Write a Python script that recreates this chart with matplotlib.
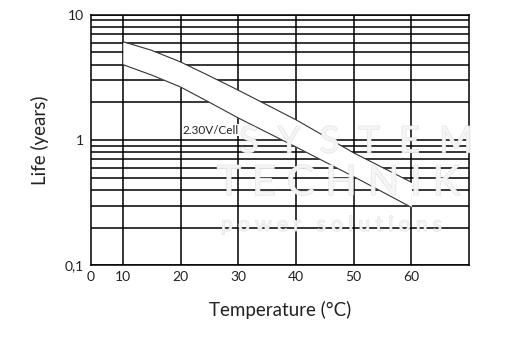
import matplotlib
matplotlib.use("Agg")
from matplotlib import pyplot as plt
from matplotlib import patheffects as pe
from matplotlib.ticker import LogLocator, NullFormatter

# float life vs. temperature band at 2.30 V/cell
temps = [10, 15, 20, 25, 30, 40, 50, 60]
life_upper = [6.1, 5.2, 4.2, 3.25, 2.5, 1.45, 0.79, 0.46]
life_lower = [4.0, 3.3, 2.65, 2.0, 1.5, 0.88, 0.51, 0.29]

x_ticks = [4.45, 10, 20, 30, 40, 50, 60]
x_labels = ['0', '10', '20', '30', '40', '50', '60']
y_ticks = [0.1, 1, 10]
y_labels = ['0,1', '1', '10']

plt.rcParams['font.family'] = ['Lato', 'DejaVu Sans']

fig = plt.figure(figsize=(5.1, 3.43), dpi=100)
ax = fig.add_axes([0.178, 0.2265, 0.742, 0.7305])

ax.set_yscale('log')
ax.set_xlim(4.45, 70)
ax.set_ylim(0.1, 10)

# grid: every minor decade step and every 10 degrees
ax.yaxis.set_minor_locator(LogLocator(base=10, subs=range(2, 10)))
ax.yaxis.set_minor_formatter(NullFormatter())
ax.grid(True, which='both', axis='y', color='black', lw=1.1)
for t in x_ticks[1:]:
    ax.axvline(t, color='black', lw=1.1)

ax.fill_between(temps, life_lower, life_upper, color='white', lw=0, zorder=2)
ax.plot(temps, life_upper, color='#333333', lw=0.8, zorder=3)
ax.plot(temps, life_lower, color='#333333', lw=0.8, zorder=3)

ax.text(20.3, 1.2, '2.30V/Cell', fontsize=8.5, color='#222222', va='center', ha='left', zorder=6,
        bbox=dict(facecolor='white', edgecolor='none', pad=0.5))

ax.set_xticks(x_ticks)
ax.set_xticklabels(x_labels)
ax.set_yticks(y_ticks)
ax.set_yticklabels(y_labels)
ax.tick_params(axis='both', which='both', length=0, labelsize=10, colors='#222222')
ax.tick_params(axis='x', pad=4)
ax.tick_params(axis='y', pad=5)
for s in ax.spines.values():
    s.set_color('black')
    s.set_linewidth(1.1)

ax.set_xlabel('Temperature (°C)', fontsize=13.5, color='#222222', labelpad=13)
ax.set_ylabel('Life (years)', fontsize=13.5, color='#222222', labelpad=11)

# faint company watermark over the grid
wm = dict(color='#f6f6f6', alpha=0.85, ha='center', va='center', zorder=5,
          transform=ax.transAxes, clip_on=False,
          path_effects=[pe.withStroke(linewidth=0.8, foreground='#dddddd')])
ax.text(0.7, 0.492, 'S  Y  S  T  E  M', fontsize=26.5, **wm)
ax.text(0.653, 0.3285, 'T E C H N I K', fontsize=30, **wm)
ax.text(0.637, 0.161, 'p o w e r   s o l u t i o n s', fontsize=15, **wm)

fig.savefig('out.png', dpi=100, facecolor='white')
